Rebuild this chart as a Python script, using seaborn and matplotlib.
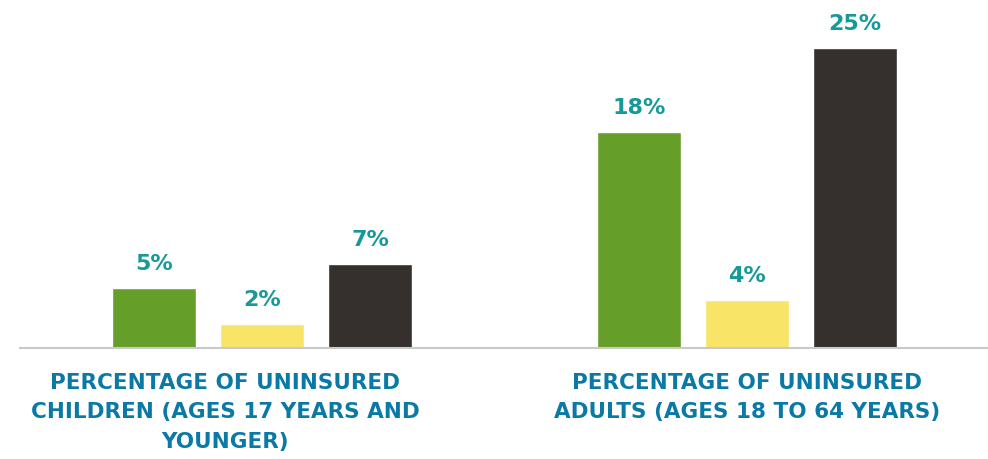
import pandas as pd
import seaborn as sns
import matplotlib.pyplot as plt
from matplotlib.transforms import ScaledTranslation

categories = ["PERCENTAGE OF UNINSURED\nCHILDREN (AGES 17 YEARS AND\nYOUNGER)",
              "PERCENTAGE OF UNINSURED\nADULTS (AGES 18 TO 64 YEARS)"]
series = ["Group 1", "Group 2", "Group 3"]
values = {
    "Group 1": [5, 18],
    "Group 2": [2, 4],
    "Group 3": [7, 25],
}
colors = ["#659f2a", "#f8e467", "#35302d"]

rows = []
for s in series:
    for c, v in zip(categories, values[s]):
        rows.append({"Category": c, "Series": s, "Value": v})
df = pd.DataFrame(rows)

sns.set_style("white")
plt.rcParams["font.family"] = ["DejaVu Sans"]

fig = plt.figure(figsize=(9.88, 4.59), dpi=100)
ax = fig.add_axes([20 / 988, 111 / 459, 968 / 988, 348 / 459])
sns.barplot(data=df, x="Category", y="Value", hue="Series", palette=colors,
            width=0.668, gap=0.22, legend=False, ax=ax, saturation=1)

for container in ax.containers:
    ax.bar_label(container, labels=[f"{int(v)}%" for v in container.datavalues],
                 padding=10, color="#17999a", fontsize=16, fontweight="bold")

ax.set_xlim(-0.499, 1.497)
ax.set_ylim(0, 29)
ax.set_xlabel("")
ax.set_ylabel("")
ax.set_yticks([])
for side in ["top", "right", "left"]:
    ax.spines[side].set_visible(False)
ax.spines["bottom"].set_color("#c9c9c9")
ax.spines["bottom"].set_linewidth(1.5)
ax.tick_params(axis="x", length=0, pad=18)
for lab in ax.get_xticklabels():
    lab.set_color("#0a79a6")
    lab.set_fontsize(15.5)
    lab.set_fontweight("bold")
    lab.set_linespacing(1.58)
    lab.set_multialignment("center")
labs = ax.get_xticklabels()
labs[0].set_transform(labs[0].get_transform() + ScaledTranslation(-0.37, 0, fig.dpi_scale_trans))

fig.savefig("out.png", dpi=100)
